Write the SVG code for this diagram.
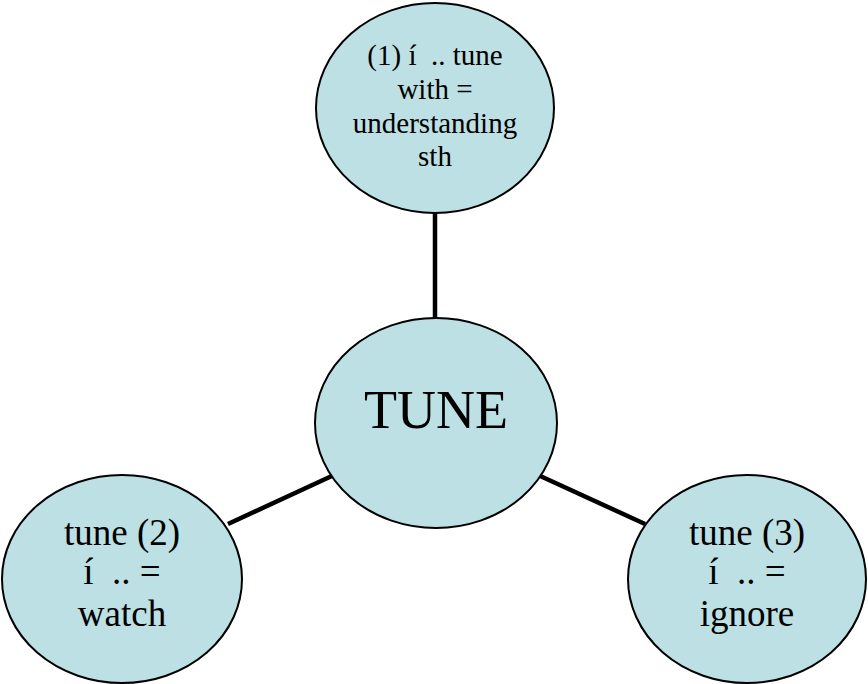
<svg xmlns="http://www.w3.org/2000/svg" width="868" height="684" viewBox="0 0 868 684">
<style>
.node{fill:#bce0e3;stroke:#000;stroke-width:2}
.edge{stroke:#000;stroke-width:4.5;fill:none}
text{font-family:"Liberation Serif","Times New Roman",serif;fill:#000;text-anchor:middle;white-space:pre}
.s{font-size:29px}
.m{font-size:37px}
.l{font-size:54px}
</style>
<rect width="868" height="684" fill="#fff"/>
<g id="edges">
<line class="edge" x1="435" y1="212" x2="435" y2="320"/>
<line class="edge" x1="228" y1="524" x2="334" y2="475"/>
<line class="edge" x1="538" y1="475" x2="645" y2="524"/>
</g>
<g id="n1">
<ellipse class="node" cx="435" cy="108" rx="119" ry="105"/>
<text class="s" x="435" y="65" xml:space="preserve">(1) í  .. tune</text>
<text class="s" x="435" y="99">with =</text>
<text class="s" x="435" y="133">understanding</text>
<text class="s" x="435" y="166">sth</text>
</g>
<g id="center">
<ellipse class="node" cx="436" cy="423" rx="121" ry="105"/>
<text class="l" x="436" y="428">TUNE</text>
</g>
<g id="n2">
<ellipse class="node" cx="122" cy="579" rx="120" ry="104"/>
<text class="m" x="122" y="545">tune (2)</text>
<text class="m" x="122" y="584" xml:space="preserve">í  .. =</text>
<text class="m" x="122" y="626">watch</text>
</g>
<g id="n3">
<ellipse class="node" cx="747" cy="579" rx="119" ry="104"/>
<text class="m" x="747" y="545">tune (3)</text>
<text class="m" x="747" y="584" xml:space="preserve">í  .. =</text>
<text class="m" x="747" y="626">ignore</text>
</g>
</svg>
